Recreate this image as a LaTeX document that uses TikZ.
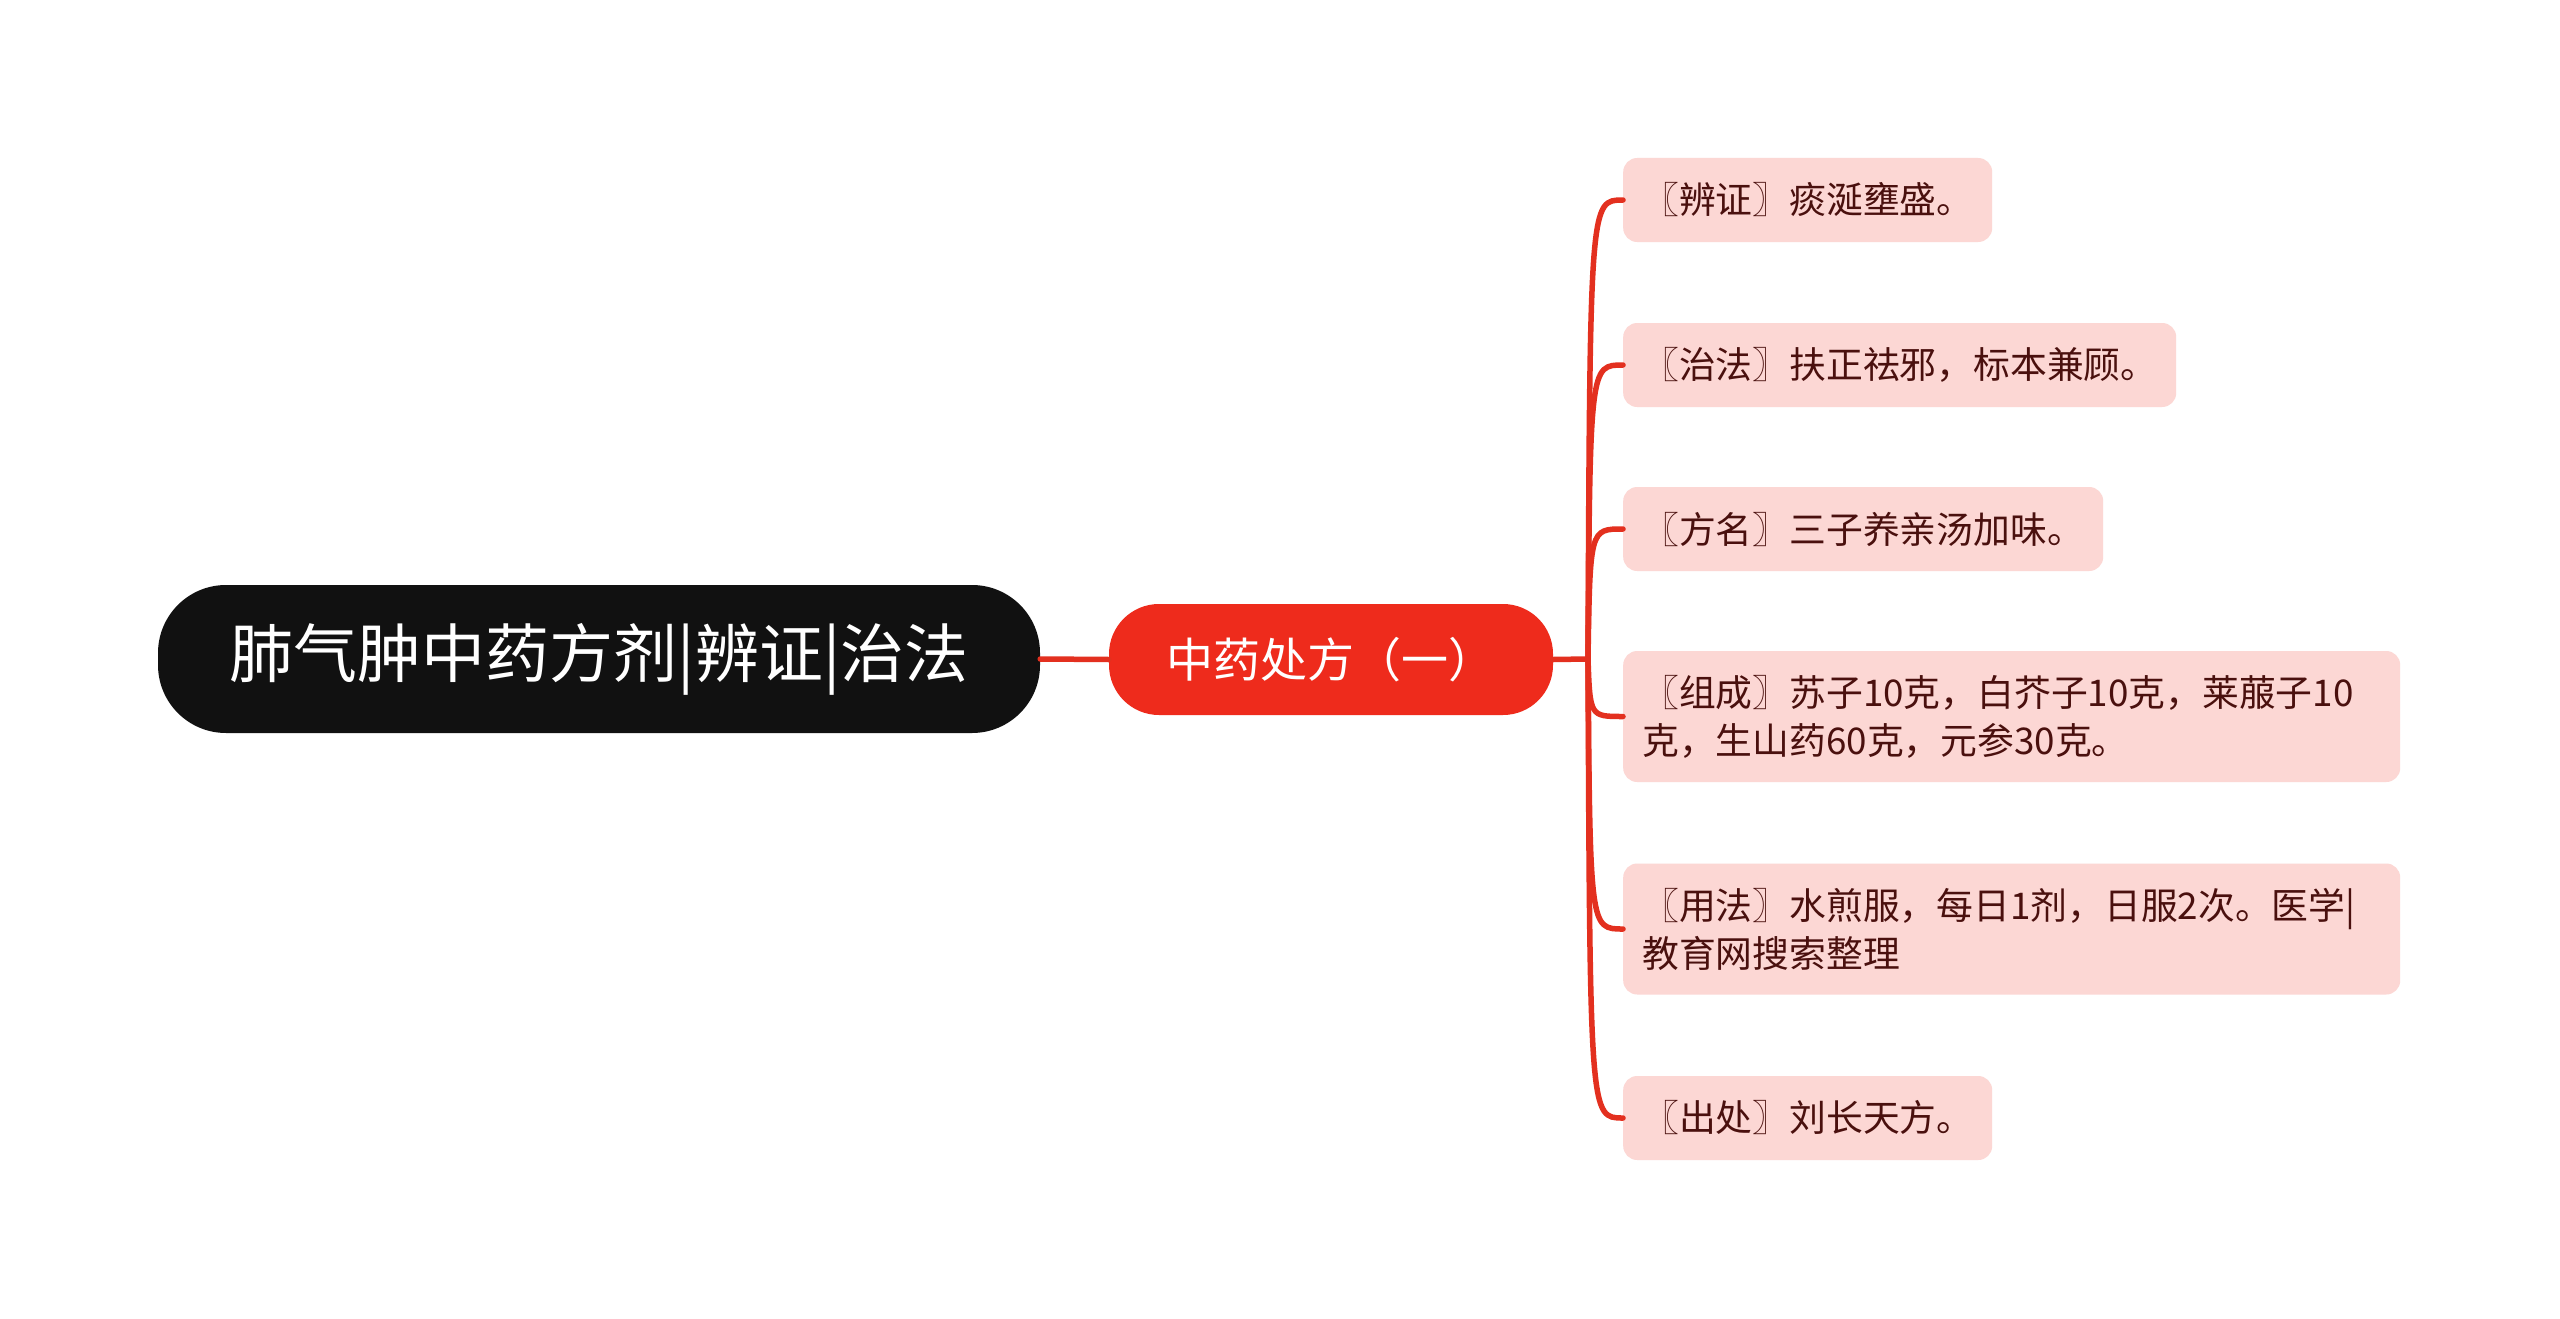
\documentclass[tikz,border=0pt]{standalone}
\usepackage{fontspec}
\setmainfont{Noto Sans CJK SC}
\usepackage{tikz}
\usetikzlibrary{positioning,calc}

\definecolor{rootbg}{HTML}{111111}
\definecolor{subred}{HTML}{EE2B1C}
\definecolor{linered}{HTML}{E3301F}
\definecolor{leafbg}{HTML}{FCD7D4}
\definecolor{leaftxt}{HTML}{4A100E}

\begin{document}
\begin{tikzpicture}[
  x=1pt, y=-1pt,
  root/.style={fill=rootbg, text=white, rounded corners=68pt,
    minimum width=882pt, minimum height=148pt, inner sep=0pt,
    font=\fontsize{64}{76}\selectfont},
  sub/.style={fill=subred, text=white, rounded corners=50pt,
    minimum width=444pt, minimum height=111pt, inner sep=0pt,
    font=\fontsize{47}{56}\selectfont},
  leaf/.style={fill=leafbg, text=leaftxt, rounded corners=14pt,
    anchor=west, align=left, text width=#1, inner xsep=19pt,
    inner ysep=0pt, minimum height=84pt,
    font=\fontsize{36.8}{48}\selectfont},
  tall/.style={minimum height=131pt},
  link/.style={draw=linered, line width=5.5pt, line cap=round}
]
\fill[white] (0,0) rectangle (2560,1319);
\useasboundingbox (0,0) rectangle (2560,1319);

% Root and first level
\node[root] (root) at (599,659) {肺气肿中药方剂|辨证|治法};
\node[sub] (rx) at (1331,659.5) {中药处方（一）};
\coordinate (hub) at (1588,659);

% Leaves
\node[leaf=331pt] (l1) at (1623,200) {〖辨证〗痰涎壅盛。};
\node[leaf=515pt] (l2) at (1623,365) {〖治法〗扶正祛邪，标本兼顾。};
\node[leaf=442pt] (l3) at (1623,529) {〖方名〗三子养亲汤加味。};
\node[leaf=739pt, tall] (l4) at (1623,716.5)
  {〖组成〗苏子10克，白芥子10克，莱菔子10\\克，生山药60克，元参30克。};
\node[leaf=739pt, tall] (l5) at (1623,929)
  {〖用法〗水煎服，每日1剂，日服2次。医学|\\教育网搜索整理};
\node[leaf=331pt] (l6) at (1623,1118) {〖出处〗刘长天方。};

% Edges
\draw[link] (root.east) -- (rx.west);
\draw[link] (rx.east) -- (hub);
\foreach \l in {l1,l2,l3,l4,l5,l6}
  \draw[link] (hub) .. controls ($(hub |- \l.west)+(2,0)$) .. (\l.west);
\end{tikzpicture}
\end{document}
